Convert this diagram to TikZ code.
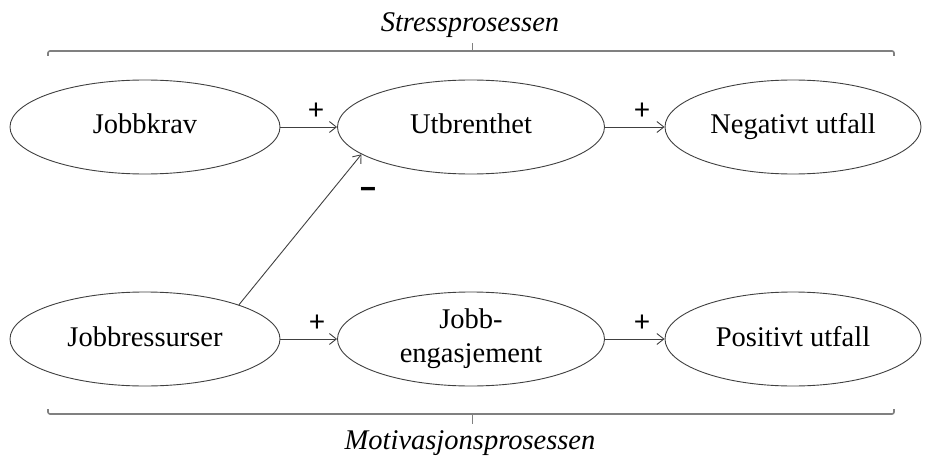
\documentclass[tikz,border=0pt]{standalone}
\usepackage{fontspec}
\setmainfont{Liberation Serif}
\newfontfamily\signfont{Carlito}
\usetikzlibrary{shapes.geometric,arrows.meta}
\definecolor{edge}{HTML}{404040}
\definecolor{brace}{HTML}{808080}
\begin{document}
\begin{tikzpicture}[x=1pt,y=-1pt,
  oval/.style={ellipse,draw=edge,line width=0.9pt,inner sep=0pt,minimum height=94pt,font=\fontsize{28.5}{34}\selectfont,text height=20pt,text depth=6pt},
  arr/.style={draw=edge,line width=0.9pt,-{Straight Barb[length=7pt,width=11pt]}},
  sign/.style={font=\signfont\fontsize{30}{34}\selectfont,inner sep=0pt},
  ttl/.style={font=\fontsize{28.5}{34}\selectfont\itshape,inner sep=0pt},
  brc/.style={draw=brace,line width=1.6pt,rounded corners=2pt}]
\useasboundingbox (0,0) rectangle (925,457);
\node[ttl] (t1) at (470,25) {Stressprosessen};
\node[ttl] (t2) at (470,443) {Motivasjonsprosessen};
\coordinate (b1l) at (48,56);
\coordinate (b1r) at (894,56);
\coordinate (b1m) at (472,51);
\coordinate (b1t) at (472,43);
\coordinate (b2l) at (48,409);
\coordinate (b2r) at (894,409);
\coordinate (b2m) at (472,414);
\coordinate (b2t) at (472,424);
\draw[brc] (b1l) -- (48,51) -- (894,51) -- (b1r);
\draw[draw=brace,line width=1pt] (b1m) -- (b1t);
\draw[brc] (b2l) -- (48,414) -- (894,414) -- (b2r);
\draw[draw=brace,line width=1pt] (b2m) -- (b2t);
\node[oval,minimum width=270pt] (jk) at (145,127) {Jobbkrav};
\node[oval,minimum width=267pt] (ut) at (471,127) {Utbrenthet};
\node[oval,minimum width=256pt] (nu) at (793,127) {Negativt utfall};
\node[oval,minimum width=270pt] (jr) at (145,339) {Jobbressurser};
\node[oval,minimum width=267pt,align=center,text height={},text depth={}] (je) at (471,339) {Jobb-\\engasjement};
\node[oval,minimum width=256pt] (pu) at (793,339) {Positivt utfall};
\draw[arr] (jk) -- (ut);
\draw[arr] (ut) -- (nu);
\draw[arr] (jr) -- (je);
\draw[arr] (je) -- (pu);
\draw[arr] (jr.20) -- (ut.194);
\node[sign] (p1) at (316,111) {+};
\node[sign] (p2) at (642,111) {+};
\node[sign] (p3) at (317,323) {+};
\node[sign] (p4) at (642,323) {+};
\node[sign,font=\signfont\bfseries\fontsize{36}{40}\selectfont] (m1) at (368,194) {−};
\end{tikzpicture}
\end{document}
